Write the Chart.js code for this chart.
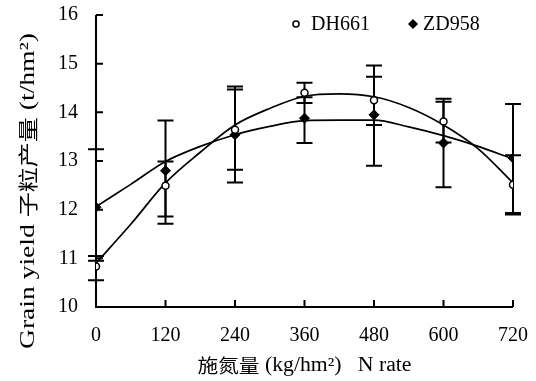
<!DOCTYPE html>
<html>
<head>
<meta charset="utf-8">
<script src="https://cdn.jsdelivr.net/npm/chart.js@4.4.1/dist/chart.umd.min.js"></script>
<style>
  html, body { margin: 0; padding: 0; background: #fff; }
</style>
</head>
<body>
<canvas id="chart" width="536" height="381"></canvas>
<script>
// 施氮量 (kg/hm2)
const nRates = [0, 120, 240, 360, 480, 600, 720]
const xTicks = [0, 120, 240, 360, 480, 600, 720]
const yTicks = [10, 11, 12, 13, 14, 15, 16]

// DH661: mean yield and error bar ends (t/hm2)
const dh661 = [10.83, 12.49, 13.64, 14.40, 14.25, 13.81, 12.51]
const dh661High = [11.05, 12.99, 14.53, 14.61, 14.73, 14.22, 13.12]
const dh661Low = [10.55, 11.86, 12.82, 14.19, 13.74, 13.38, 11.90]

// ZD958
const zd958 = [12.05, 12.80, 13.54, 13.88, 13.95, 13.37, 13.06]
const zd958High = [13.24, 13.83, 14.47, 14.31, 14.96, 14.28, 14.17]
const zd958Low = [10.95, 11.71, 12.56, 13.37, 12.90, 12.46, 11.93]

// fitted curves
const curveX = [0, 60, 120, 180, 240, 300, 360, 420, 480, 540, 600, 660, 720]
const dh661Curve = [10.90, 11.70, 12.55, 13.18, 13.74, 14.08, 14.33, 14.38, 14.32, 14.10, 13.74, 13.25, 12.55]
const zd958Curve = [12.06, 12.52, 12.99, 13.30, 13.54, 13.71, 13.83, 13.84, 13.84, 13.70, 13.52, 13.30, 13.04]

const latin = "'Liberation Serif', 'Times New Roman', serif"
const cjk = "'Noto Sans CJK SC', sans-serif"

const toXY = (xs, ys) => xs.map((x, i) => ({ x: x, y: ys[i] }))

// draws text runs (mixed fonts) centred on (cx, cy), stretched to a given length
function drawRuns(ctx, runs, cx, cy, angle, length) {
  ctx.save()
  ctx.translate(cx, cy)
  ctx.rotate(angle)
  let total = 0
  runs.forEach(r => {
    ctx.font = r.font
    r.w = ctx.measureText(r.text).width
    total += r.w
  })
  ctx.scale(length / total, 1)
  ctx.textBaseline = 'middle'
  ctx.textAlign = 'left'
  ctx.fillStyle = '#000'
  let x = -total / 2
  runs.forEach(r => {
    ctx.font = r.font
    ctx.fillText(r.text, x, r.dy || 0)
    x += r.w
  })
  ctx.restore()
}

const framePlugin = {
  id: 'frame',
  beforeDatasetsDraw(chart) {
    const { ctx, chartArea: a, scales: { x, y } } = chart
    ctx.save()
    ctx.strokeStyle = '#000'
    ctx.lineWidth = 2

    // axes with inward ticks
    ctx.beginPath()
    ctx.moveTo(a.left, a.top)
    ctx.lineTo(a.left, a.bottom)
    ctx.lineTo(a.right, a.bottom)
    yTicks.forEach(v => {
      const py = y.getPixelForValue(v)
      ctx.moveTo(a.left, py)
      ctx.lineTo(a.left + 7, py)
    })
    xTicks.forEach(v => {
      const px = x.getPixelForValue(v)
      ctx.moveTo(px, a.bottom)
      ctx.lineTo(px, a.bottom - 7)
    })
    ctx.stroke()

    // error bars
    const bars = [[dh661High, dh661Low], [zd958High, zd958Low]]
    bars.forEach(([high, low]) => {
      nRates.forEach((n, i) => {
        const px = x.getPixelForValue(n)
        const top = y.getPixelForValue(high[i])
        const bottom = y.getPixelForValue(low[i])
        ctx.beginPath()
        ctx.moveTo(px, top)
        ctx.lineTo(px, bottom)
        ctx.moveTo(px - 8, top)
        ctx.lineTo(px + 8, top)
        ctx.moveTo(px - 8, bottom)
        ctx.lineTo(px + 8, bottom)
        ctx.stroke()
      })
    })
    ctx.restore()
  },
  afterDraw(chart) {
    const { ctx, chartArea: a } = chart
    const cx = (a.left + a.right) / 2

    // axis titles
    drawRuns(ctx, [
      { text: 'Grain yield ', font: '22px ' + latin },
      { text: '子粒产量', font: '20px ' + cjk },
      { text: ' (t/hm²)', font: '22px ' + latin }
    ], 28, 191, -Math.PI / 2, 316)
    drawRuns(ctx, [
      { text: '施氮量', font: '19px ' + cjk },
      { text: ' (kg/hm²)   N rate', font: '20px ' + latin }
    ], cx, 366, 0, 214)

    // legend
    ctx.save()
    ctx.fillStyle = '#000'
    ctx.strokeStyle = '#000'
    ctx.font = '20px ' + latin
    ctx.textBaseline = 'middle'
    ctx.lineWidth = 1.5
    ctx.beginPath()
    ctx.arc(296, 24, 3, 0, Math.PI * 2)
    ctx.fillStyle = '#fff'
    ctx.fill()
    ctx.stroke()
    ctx.fillStyle = '#000'
    ctx.fillText('DH661', 311, 25)
    ctx.beginPath()
    ctx.moveTo(413, 19)
    ctx.lineTo(418, 24)
    ctx.lineTo(413, 29)
    ctx.lineTo(408, 24)
    ctx.closePath()
    ctx.fill()
    ctx.fillText('ZD958', 423, 25)
    ctx.restore()
  }
}

new Chart(document.getElementById('chart'), {
  type: 'scatter',
  data: {
    datasets: [
      {
        label: 'DH661',
        data: toXY(nRates, dh661),
        pointStyle: 'circle',
        pointRadius: 3.5,
        pointBackgroundColor: '#fff',
        pointBorderColor: '#000',
        pointBorderWidth: 1.5,
        showLine: false,
        order: 0
      },
      {
        label: 'ZD958',
        data: toXY(nRates, zd958),
        pointStyle: 'rectRot',
        pointRadius: 5,
        pointBackgroundColor: '#000',
        pointBorderColor: '#000',
        pointBorderWidth: 1,
        showLine: false,
        order: 0
      },
      {
        label: 'DH661 fit',
        data: toXY(curveX, dh661Curve),
        showLine: true,
        pointRadius: 0,
        borderColor: '#000',
        borderWidth: 1.7,
        cubicInterpolationMode: 'monotone',
        order: 1
      },
      {
        label: 'ZD958 fit',
        data: toXY(curveX, zd958Curve),
        showLine: true,
        pointRadius: 0,
        borderColor: '#000',
        borderWidth: 1.7,
        cubicInterpolationMode: 'monotone',
        order: 1
      }
    ]
  },
  options: {
    responsive: false,
    animation: false,
    devicePixelRatio: 1,
    layout: {
      padding: { top: 15, right: 23, left: 0, bottom: 0 }
    },
    plugins: {
      legend: { display: false },
      tooltip: { enabled: false }
    },
    scales: {
      x: {
        type: 'linear',
        min: 0,
        max: 720,
        afterBuildTicks: s => { s.ticks = xTicks.map(v => ({ value: v })) },
        afterFit: s => {
          s.height = 74
          s.paddingLeft = 0
          s.paddingRight = 0
        },
        grid: { display: false, drawTicks: false },
        border: { display: false },
        ticks: {
          color: '#000',
          padding: 17,
          maxRotation: 0,
          font: { family: latin, size: 20 }
        }
      },
      y: {
        min: 10,
        max: 16,
        afterBuildTicks: s => { s.ticks = yTicks.map(v => ({ value: v })) },
        afterFit: s => {
          s.width = 96
          s.paddingTop = 0
          s.paddingBottom = 0
        },
        grid: { display: false, drawTicks: false },
        border: { display: false },
        ticks: {
          color: '#000',
          padding: 18,
          font: { family: latin, size: 20 }
        }
      }
    }
  },
  plugins: [framePlugin]
})
</script>
</body>
</html>
